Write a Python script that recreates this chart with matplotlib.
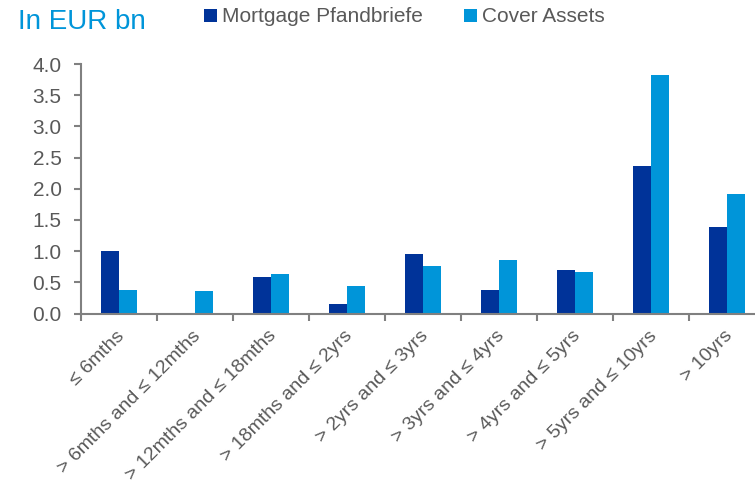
import matplotlib
matplotlib.use("Agg")
import matplotlib.pyplot as plt
import matplotlib.transforms as mtransforms
import numpy as np

plt.rcParams['font.family'] = ['Liberation Sans', 'DejaVu Sans']

categories = ["≤ 6mths", "> 6mths and ≤ 12mths", "> 12mths and ≤ 18mths",
              "> 18mths and ≤ 2yrs", "> 2yrs and ≤ 3yrs", "> 3yrs and ≤ 4yrs",
              "> 4yrs and ≤ 5yrs", "> 5yrs and ≤ 10yrs", "> 10yrs"]
pfandbriefe = [1.0, 0.0, 0.58, 0.16, 0.95, 0.37, 0.70, 2.36, 1.39]
cover_assets = [0.37, 0.36, 0.64, 0.44, 0.76, 0.85, 0.67, 3.82, 1.91]
series_names = ["Mortgage Pfandbriefe", "Cover Assets"]
yticks = [0.0, 0.5, 1.0, 1.5, 2.0, 2.5, 3.0, 3.5, 4.0]

dark = "#003399"
light = "#0095D9"
gray_txt = "#595959"
axis_gray = "#808080"

fig = plt.figure(figsize=(7.55, 4.84), dpi=100)
ax = fig.add_axes([81/755, (484-313.5)/484, (765-81)/755, (313.5-64)/484])

x = np.arange(len(categories))
w = 0.24
ax.bar(x - w/2, pfandbriefe, width=w, color=dark, label=series_names[0])
ax.bar(x + w/2, cover_assets, width=w, color=light, label=series_names[1])

ax.set_xlim(-0.5, len(categories) - 0.5)
ax.set_ylim(0, 4.0)
ax.set_yticks(yticks)
ax.set_yticklabels([f"{v:.1f}" for v in yticks])

ax.set_xticks(x)
ax.set_xticklabels(categories, rotation=45, ha='right', rotation_mode='anchor')
ax.set_xticks(np.arange(len(categories)) - 0.5, minor=True)
ax.tick_params(axis='x', which='major', length=0, pad=10, labelsize=14, labelcolor=gray_txt)
ax.tick_params(axis='x', which='minor', length=5, width=1.5, color=axis_gray, direction='out')
ax.tick_params(axis='y', length=5, width=1.5, color=axis_gray, labelsize=15, labelcolor=gray_txt, pad=9)

offset = mtransforms.ScaledTranslation(-3/100, 0, fig.dpi_scale_trans)
for lab in ax.get_xticklabels():
    lab.set_transform(lab.get_transform() + offset)

for s in ['top', 'right']:
    ax.spines[s].set_visible(False)
for s in ['left', 'bottom']:
    ax.spines[s].set_color(axis_gray)
    ax.spines[s].set_linewidth(1.5)

fig.text(18/755, 1 - 22/484, "In EUR bn", color=light, fontsize=20, va='center', ha='left')

fig.legend(loc='center left', bbox_to_anchor=(204/755, 1 - 17/484), ncol=2, frameon=False,
           fontsize=15, handlelength=0.6, handleheight=0.6, handletextpad=0.25,
           columnspacing=2.0, labelcolor=gray_txt, borderpad=0, borderaxespad=0)

fig.savefig("out.png", dpi=100)
